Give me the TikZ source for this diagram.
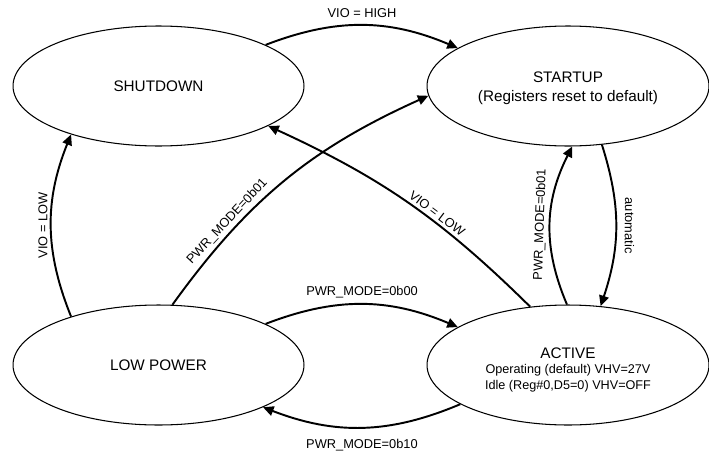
\documentclass[tikz,border=0pt]{standalone}
\usepackage{fontspec}
\setmainfont{Liberation Sans}
\usepackage{tikz}
\usetikzlibrary{
	arrows.meta,
	positioning,
	shapes.geometric,
}
\tikzset{state node/.style={
	draw,
	ellipse,
	line width=0.6pt,
	inner sep=0mm,
	minimum width=5.82cm,
	minimum height=2.4cm,
	align=center,
	font=\fontsize{8.7}{10.8}\selectfont,
}}
\tikzset{trans/.style={
	-{Triangle[length=6pt,width=5.5pt]},
	line width=1.1pt,
}}
\tikzset{trans label/.style={
	inner sep=1.5pt,
	font=\fontsize{7.3}{8.5}\selectfont,
}}

\begin{document}
\begin{tikzpicture}[x=0.02cm, y=-0.02cm]
\useasboundingbox (0,0) rectangle (709,453);

\node(shutdown)[state node] at (158.5,86) {SHUTDOWN};
\node(startup)[state node, minimum width=5.64cm] at (568,86) {\rule{0pt}{8.5pt}STARTUP\\(Registers reset to default)};
\node(lowpower)[state node] at (158.5,365) {LOW POWER};
\node(active)[state node, minimum width=5.64cm] at (568,365)
	{\rule{0pt}{12pt}ACTIVE\\[-2.6pt]{\fontsize{7.2}{9.6}\selectfont Operating (default) VHV=27V}\\[-1.5pt]
	{\fontsize{7.2}{9.6}\selectfont Idle (Reg\#0,D5=0) VHV=OFF}};

\draw[trans] (shutdown.21) to[bend left=22] node[trans label, midway, above=2.5pt] {VIO = HIGH} (startup.161);
\draw[trans] (lowpower.151) to[bend left=22] node[trans label, midway, sloped, above] {VIO = LOW} (shutdown.209);
\draw[trans] (lowpower.77) to[bend left=15] node[trans label, pos=0.28, sloped, above] {PWR\_MODE=0b01} (startup.184);
\draw[trans] (active.123) to[bend right=10] node[trans label, pos=0.4, sloped, above] {VIO = LOW} (shutdown.340);
\draw[trans] (active.91) to[bend left=25] node[trans label, midway, sloped, above] {PWR\_MODE=0b01} (startup.274);
\draw[trans] (startup.300) to[bend left=18] node[trans label, midway, sloped, allow upside down, above=3pt] {automatic} (active.61);
\draw[trans] (lowpower.21) to[bend left=22] node[trans label, midway, above=1.5pt] {PWR\_MODE=0b00} (active.161);
\draw[trans] (active.200) to[bend left=22] node[trans label, midway, below=4.5pt] {PWR\_MODE=0b10} (lowpower.338);

\end{tikzpicture}
\end{document}
